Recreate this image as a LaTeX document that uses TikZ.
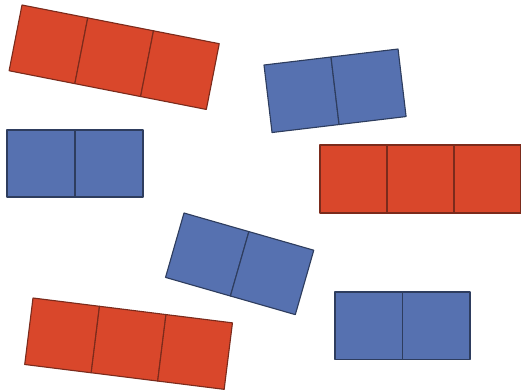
\documentclass[tikz,border=0pt]{standalone}
\definecolor{brick}{HTML}{D9472B}
\definecolor{brickline}{HTML}{7B2B1C}
\definecolor{slate}{HTML}{5671B0}
\definecolor{slateline}{HTML}{2E3D5E}

\begin{document}
\begin{tikzpicture}[x=0.5mm,y=-0.5mm,line join=round,
  redsq/.style={fill=brick,draw=brickline,line width=1.6pt},
  bluesq/.style={fill=slate,draw=slateline,line width=1.6pt}]
  \useasboundingbox (0,0) rectangle (521,391);

  % Red strips of three.
  \begin{scope}[shift={(22,5)},rotate=-11.1]
    \foreach \i in {0,1,2}
      \draw[redsq] (67*\i,0) rectangle ++(67,67);
  \end{scope}
  \begin{scope}[shift={(320,145)}]
    \foreach \i in {0,1,2}
      \draw[redsq] (67*\i,0) rectangle ++(67,68);
  \end{scope}
  \begin{scope}[shift={(33,298)},rotate=-7.1]
    \foreach \i in {0,1,2}
      \draw[redsq] (67*\i,0) rectangle ++(67,67);
  \end{scope}

  % Blue strips of two.
  \begin{scope}[shift={(264,65)},rotate=6.8]
    \foreach \i in {0,1}
      \draw[bluesq] (67.5*\i,0) rectangle ++(67.5,68);
  \end{scope}
  \begin{scope}[shift={(7,130)}]
    \foreach \i in {0,1}
      \draw[bluesq] (68*\i,0) rectangle ++(68,67);
  \end{scope}
  \begin{scope}[shift={(184,213)},rotate=-16]
    \foreach \i in {0,1}
      \draw[bluesq] (67.5*\i,0) rectangle ++(67.5,67);
  \end{scope}
  \begin{scope}[shift={(335,292)}]
    \foreach \i in {0,1}
      \draw[bluesq] (67.5*\i,0) rectangle ++(67.5,67.5);
  \end{scope}
\end{tikzpicture}
\end{document}
